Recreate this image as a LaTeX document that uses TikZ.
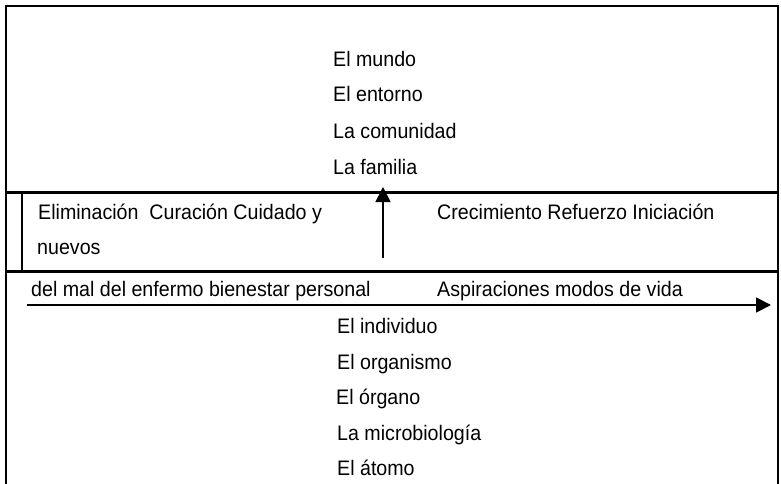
\documentclass[tikz,border=0pt]{standalone}
\usepackage{fontspec}
\setmainfont[FakeStretch=0.935]{Liberation Sans}
\usetikzlibrary{arrows.meta}
\tikzset{
  lbl/.style={anchor=base west, inner sep=0pt, font=\fontsize{21}{24}\selectfont},
  frame/.style={line width=2.2pt, line cap=rect},
  arr/.style={line width=1.8pt, -{Triangle[length=15pt,width=15pt]}}
}
\begin{document}
\begin{tikzpicture}[x=1pt,y=-1pt]
\useasboundingbox (0,0) rectangle (781,484);
% frame
\draw[frame] (6,484) -- (6,6) -- (778,6) -- (778,484);
\draw[line width=2.6pt] (6,192.5) -- (778,192.5);
\draw[line width=3.6pt] (6,271.5) -- (778,271.5);
\draw[line width=2.2pt] (22,192.5) -- (22,271.5);
% top texts
\node[lbl] (m1) at (333,66.5) {El mundo};
\node[lbl] (m2) at (333,102) {El entorno};
\node[lbl] (m3) at (333,138.5) {La comunidad};
\node[lbl] (m4) at (333,174) {La familia};
% middle texts
\node[lbl] (e1) at (38,219) {Eliminación\ \ Curación Cuidado y};
\node[lbl] (e2) at (37,254) {nuevos};
\node[lbl] (c1) at (437,219) {Crecimiento Refuerzo Iniciación};
% bottom texts
\node[lbl] (d1) at (31,296.5) {del mal del enfermo bienestar personal};
\node[lbl] (a1) at (437,296.5) {Aspiraciones modos de vida};
\node[lbl] (b1) at (337,333.5) {El individuo};
\node[lbl] (b2) at (337,369) {El organismo};
\node[lbl] (b3) at (336,404.5) {El órgano};
\node[lbl] (b4) at (337,440) {La microbiología};
\node[lbl] (b5) at (337,475.5) {El átomo};
% arrows
\coordinate (vs) at (383,258);
\coordinate (ve) at (383,187);
\coordinate (hs) at (27,305);
\coordinate (he) at (771,305);
\draw[arr] (vs) -- (ve);
\draw[arr] (hs) -- (he);
\end{tikzpicture}
\end{document}
